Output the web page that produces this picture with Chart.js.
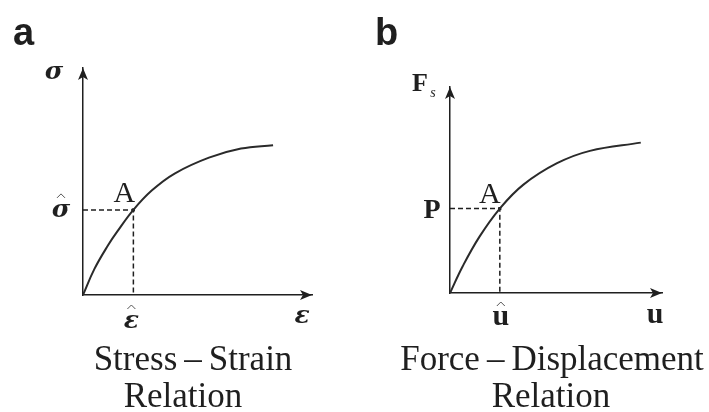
<!DOCTYPE html>
<html>
<head>
<meta charset="utf-8">
<script src="https://cdn.jsdelivr.net/npm/chart.js@4/dist/chart.umd.min.js"></script>
<style>
  body { margin: 0; background: #fff; }
  canvas { position: absolute; top: 0; }
  #chartA { left: 0; }
  #chartB { left: 354px; }
</style>
</head>
<body>
<canvas id="chartA" width="354" height="412"></canvas>
<canvas id="chartB" width="355" height="412"></canvas>
<script>
// stress-strain curve (arbitrary units, axes run 0..10)
const strain = [0, 0.5, 1.1, 1.5, 2.2, 3.0, 4.0, 5.5, 6.9, 8.3];
const stress = [0, 1.15, 2.2, 2.8, 3.75, 4.6, 5.35, 6.05, 6.45, 6.6];
const strainAtA = 2.2;
const stressAtA = 3.75;

// force-displacement curve
const displacement = [0, 0.6, 1.4, 2.35, 3.45, 5.05, 6.6, 9.0];
const force = [0, 1.3, 2.75, 4.1, 5.25, 6.3, 6.9, 7.3];
const dispAtA = 2.35;
const forceAtA = 4.1;

const axisMax = 10;
const panelLetters = ['a', 'b'];
const captionsA = ['Stress\u2009\u2013\u2009Strain', 'Relation'];
const captionsB = ['Force\u2009\u2013\u2009Displacement', 'Relation'];

const ink = '#1f1f1f';
const serif = '"Liberation Serif", "Times New Roman", serif';
const greek = 'bold italic 25px "DejaVu Serif", serif';

function toPoints(xs, ys) {
  return xs.map((x, i) => ({ x: x, y: ys[i] }));
}

function drawText(ctx, text, x, y, font, align) {
  ctx.font = font;
  ctx.textAlign = align || 'center';
  ctx.textBaseline = 'alphabetic';
  ctx.fillText(text, x, y);
}

function drawHat(ctx, cx, y) {
  ctx.save();
  ctx.strokeStyle = '#555';
  ctx.lineWidth = 1;
  ctx.beginPath();
  ctx.moveTo(cx - 4, y + 3);
  ctx.lineTo(cx, y - 1);
  ctx.lineTo(cx + 4, y + 3);
  ctx.stroke();
  ctx.restore();
}

function arrowHead(ctx, x, y, dir) {
  // dir: 'up' or 'right'
  const len = 12, half = 5, notch = 3;
  ctx.save();
  ctx.translate(x, y);
  if (dir === 'right') ctx.rotate(Math.PI / 2);
  ctx.beginPath();
  ctx.moveTo(0, 0);
  ctx.lineTo(half, len);
  ctx.lineTo(0, len - notch);
  ctx.lineTo(-half, len);
  ctx.closePath();
  ctx.fillStyle = ink;
  ctx.fill();
  ctx.restore();
}

// axes arrows, tick names and captions
const diagramText = {
  id: 'diagramText',
  afterDraw(chart, args, opts) {
    const ctx = chart.ctx;
    const xs = chart.scales.x, ys = chart.scales.y;
    const area = chart.chartArea;
    const ax = xs.getPixelForValue(opts.ax);
    const ay = ys.getPixelForValue(opts.ay);

    ctx.save();
    arrowHead(ctx, area.left, area.top, 'up');
    arrowHead(ctx, area.right, area.bottom, 'right');

    ctx.fillStyle = ink;
    drawText(ctx, opts.letter, opts.letterX, 45, 'bold 38px "Liberation Sans", Arial, sans-serif', 'left');

    opts.draw(ctx, area, ax, ay);

    drawText(ctx, opts.caption[0], opts.captionX[0], 370, '35px ' + serif);
    drawText(ctx, opts.caption[1], opts.captionX[1], 407, '35px ' + serif);
    ctx.restore();
  }
};

function makeChart(id, xs, ys, aX, aY, padding, text) {
  const scaleOpts = {
    type: 'linear',
    min: 0,
    max: axisMax,
    grid: { display: false, drawTicks: false },
    border: { display: true, color: ink, width: 1.5 },
    ticks: { display: false }
  };
  return new Chart(document.getElementById(id), {
    type: 'scatter',
    data: {
      datasets: [
        {
          data: toPoints(xs, ys),
          showLine: true,
          borderColor: '#2a2a2a',
          borderWidth: 2,
          pointRadius: 0,
          tension: 0.4
        },
        {
          // guide from the axes to point A
          data: [{ x: 0, y: aY }, { x: aX, y: aY }, { x: aX, y: 0 }],
          showLine: true,
          borderColor: ink,
          borderWidth: 1.5,
          borderDash: [5, 3],
          pointRadius: 0,
          tension: 0
        },
        {
          data: [{ x: aX, y: aY }],
          pointStyle: 'rect',
          pointRadius: 2.2,
          backgroundColor: ink,
          borderColor: ink,
          borderWidth: 0
        }
      ]
    },
    options: {
      responsive: false,
      animation: false,
      layout: { padding: padding },
      scales: { x: scaleOpts, y: scaleOpts },
      plugins: {
        legend: { display: false },
        tooltip: { enabled: false },
        diagramText: Object.assign({ ax: aX, ay: aY }, text)
      }
    },
    plugins: [diagramText]
  });
}

makeChart('chartA', strain, stress, strainAtA, stressAtA,
  { left: 83, right: 42, top: 68, bottom: 117 },
  {
    letter: panelLetters[0],
    letterX: 13,
    caption: captionsA,
    captionX: [193, 183],
    draw(ctx, area, ax, ay) {
      drawText(ctx, '\u03C3', area.left - 29, area.top + 11, greek);
      drawText(ctx, '\u03C3', area.left - 22, ay + 7, greek);
      drawHat(ctx, area.left - 22, ay - 15);
      drawText(ctx, '\u03B5', ax - 2, area.bottom + 33, greek);
      drawHat(ctx, ax - 2, area.bottom + 11);
      drawText(ctx, '\u03B5', area.right - 10, area.bottom + 28, greek);
      drawText(ctx, 'A', ax - 9, ay - 8, '30px ' + serif);
    }
  });

makeChart('chartB', displacement, force, dispAtA, forceAtA,
  { left: 96, right: 47, top: 87, bottom: 119 },
  {
    letter: panelLetters[1],
    letterX: 21,
    caption: captionsB,
    captionX: [198, 197],
    draw(ctx, area, ax, ay) {
      drawText(ctx, 'F', area.left - 30, area.top + 4, 'bold 26px ' + serif);
      drawText(ctx, 's', area.left - 17, area.top + 10, 'italic 14px ' + serif);
      drawText(ctx, 'P', area.left - 18, ay + 9, 'bold 28px ' + serif);
      drawText(ctx, 'u', ax + 1, area.bottom + 32, 'bold 30px ' + serif);
      drawHat(ctx, ax + 1, area.bottom + 10);
      drawText(ctx, 'u', area.right - 7, area.bottom + 30, 'bold 30px ' + serif);
      drawText(ctx, 'A', ax - 10, ay - 6, '30px ' + serif);
    }
  });
</script>
</body>
</html>
